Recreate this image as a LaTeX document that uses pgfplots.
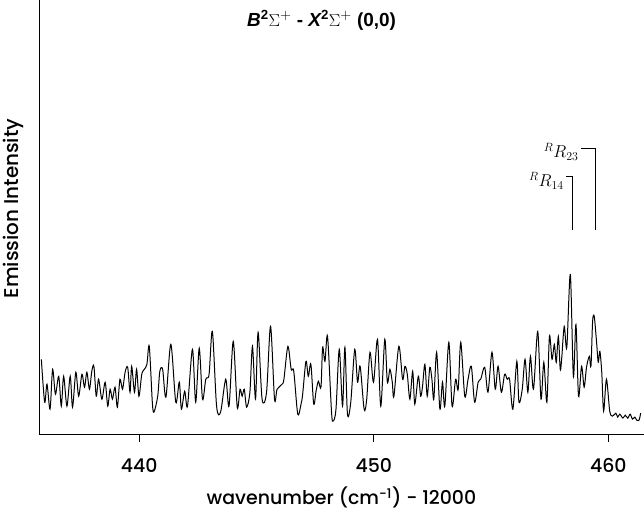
\documentclass[border=0pt]{standalone}
\usepackage{fontspec}
\setmainfont{Poppins Medium}
\newfontfamily\titlefont{Liberation Sans}
\usepackage{pgfplots}
\pgfplotsset{compat=1.18}

\begin{document}
\begin{tikzpicture}
\begin{axis}[
  scale only axis, width=606pt, height=435pt,
  xmin=435.75, xmax=461.5, ymin=0, ymax=435,
  axis x line=bottom, axis y line=left,
  axis line style={-, line width=1pt},
  xtick={440,450,460}, ytick=\empty,
  tick align=outside, major tick length=8pt,
  tick style={line width=0.8pt, black},
  ticklabel style={font=\fontsize{19}{22}\selectfont},
  xticklabel style={yshift=-13pt},
  /pgf/number format/assume math mode=true,
  xlabel={wavenumber (cm\textsuperscript{-1}) - 12000},
  xlabel style={font=\fontsize{19}{22}\selectfont, at={(axis description cs:0.5,0)}, anchor=center, yshift=-64pt},
  ylabel={Emission Intensity},
  ylabel style={font=\fontsize{20}{22}\selectfont, at={(axis description cs:-0.0429,0.52)}, anchor=center},
]
\addplot[black, line width=1pt, smooth, tension=0.5] table {
x y
435.83 75
435.97 32
436.07 50
436.20 25
436.31 65
436.43 40
436.57 58
436.68 28
436.78 58
436.92 28
437.06 58
437.16 27
437.30 62
437.42 38
437.56 60
437.67 47
437.77 62
437.88 45
437.98 63
438.07 68
438.17 38
438.27 55
438.41 35
438.55 52
438.66 28
438.76 45
438.86 35
438.97 47
439.07 27
439.18 55
439.29 45
439.40 62
439.51 67
439.61 42
439.68 68
439.80 42
439.89 65
439.99 38
440.11 60
440.22 65
440.33 70
440.43 88
440.56 32
440.63 22
440.79 38
440.88 63
441.00 65
441.14 37
441.35 90
441.56 32
441.71 52
441.80 25
441.94 43
442.06 28
442.27 85
442.41 32
442.56 86
442.70 35
442.84 55
442.98 60
443.12 103
443.30 28
443.47 22
443.69 55
443.83 28
444.01 93
444.18 27
444.30 45
444.39 38
444.48 45
444.58 27
444.72 42
444.83 88
444.96 35
445.07 102
445.24 35
445.43 42
445.60 108
445.77 35
445.88 45
446.09 50
446.17 55
446.34 88
446.48 65
446.59 63
446.76 20
446.90 30
446.97 40
447.11 73
447.21 58
447.32 70
447.44 30
447.54 43
447.64 53
447.75 47
447.82 87
447.92 73
448.03 98
448.20 22
448.27 13
448.39 25
448.53 85
448.67 28
448.77 87
448.88 20
449.02 32
449.19 85
449.31 52
449.42 68
449.59 25
449.70 35
449.84 82
449.99 52
450.16 95
450.30 28
450.47 95
450.58 52
450.69 65
450.79 52
450.86 38
451.07 88
451.23 55
451.33 68
451.43 60
451.54 35
451.66 63
451.75 30
451.90 58
452.00 38
452.08 48
452.18 70
452.28 38
452.39 67
452.48 55
452.56 35
452.68 82
452.82 25
452.93 52
453.03 28
453.20 92
453.34 28
453.49 55
453.60 45
453.71 92
453.88 38
454.02 55
454.16 68
454.30 32
454.45 52
454.56 55
454.73 67
454.87 42
455.04 82
455.18 45
455.30 68
455.44 42
455.58 60
455.69 55
455.79 55
455.93 25
456.10 73
456.19 32
456.33 45
456.45 75
456.57 42
456.68 78
456.81 45
456.99 103
457.13 35
457.25 72
457.38 32
457.49 98
457.60 75
457.70 90
457.78 72
457.87 98
457.95 65
458.01 75
458.12 108
458.23 87
458.38 160
458.51 58
458.62 110
458.73 38
458.86 68
458.97 47
459.07 67
459.19 78
459.26 68
459.33 113
459.40 118
459.50 92
459.57 72
459.64 83
459.72 62
459.80 23
459.92 55
460.06 23
460.18 18
460.32 21
460.40 17
460.49 20
460.62 16
460.72 19
460.83 16
460.93 20
461.03 15
461.13 17
461.21 14
461.31 14
461.38 21
};
% line assignments
\draw[line width=0.9pt] (axis cs:458.20,258) -- (axis cs:458.49,258) -- (axis cs:458.49,205);
\draw[line width=0.9pt] (axis cs:458.83,287) -- (axis cs:459.43,287) -- (axis cs:459.43,205);
\node[anchor=east, font=\fontsize{18}{20}\selectfont, inner sep=1pt] at (axis cs:458.15,254) {${}^{R}R_{14}$};
\node[anchor=east, font=\fontsize{18}{20}\selectfont, inner sep=1pt] at (axis cs:458.78,283) {${}^{R}R_{23}$};
\node[font=\titlefont\bfseries\fontsize{19}{22}\selectfont] at (axis description cs:0.467,0.954)
  {\itshape B\upshape\textsuperscript{2}$\Sigma^{+}$ - \itshape X\upshape\textsuperscript{2}$\Sigma^{+}$ (0,0)};
\end{axis}
\end{tikzpicture}
\end{document}
